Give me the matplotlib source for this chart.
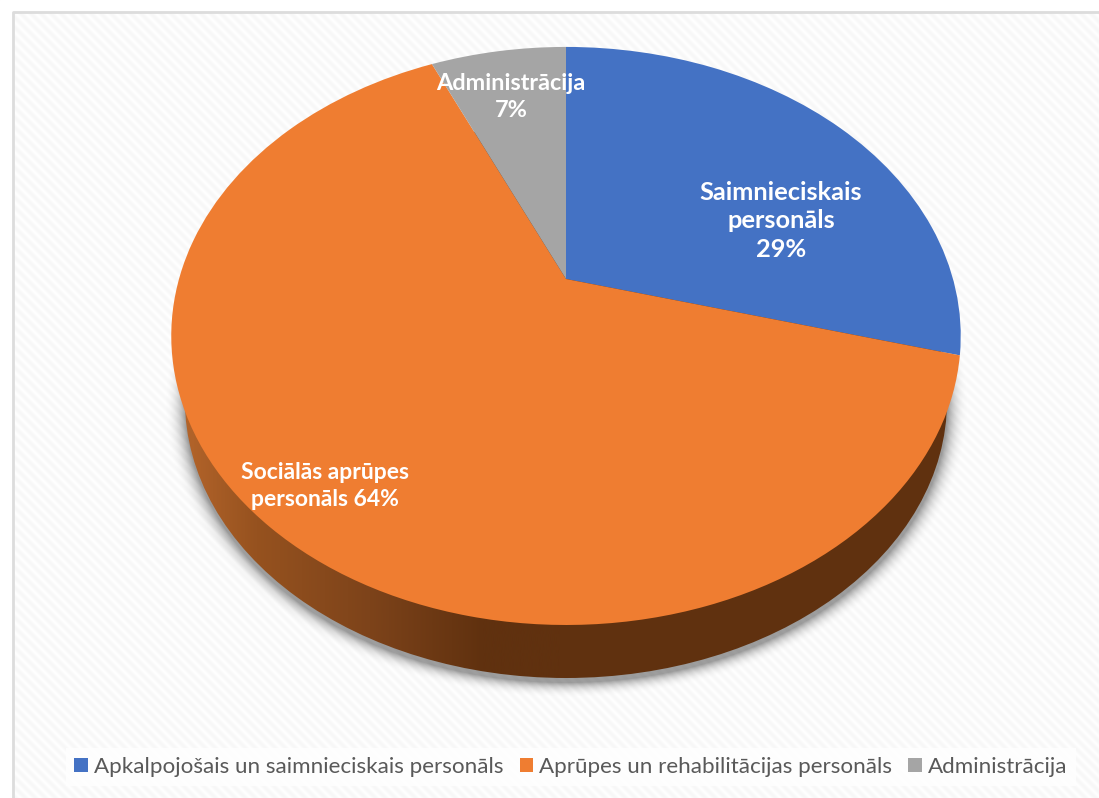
import numpy as np
import matplotlib
matplotlib.use('Agg')
import matplotlib.pyplot as plt
from matplotlib.patches import Ellipse, Rectangle
from matplotlib.transforms import Transform
from matplotlib.colors import LinearSegmentedColormap

plt.rcParams['font.family'] = ['Lato', 'DejaVu Sans']

# shares
categories = ['Apkalpojošais un saimnieciskais personāls',
              'Aprūpes un rehabilitācijas personāls',
              'Administrācija']
values = [29.2, 64.1, 6.7]
slice_names = ['Saimnieciskais\npersonāls\n', 'Sociālās aprūpes\npersonāls ', 'Administrācija\n']
colors = ['#4472C4', '#EF7D31', '#A5A5A5']


class TiltedPie(Transform):
    # tilts the flat pie into picture pixels, far edge is smaller
    input_dims = 2
    output_dims = 2
    has_inverse = False

    def transform_non_affine(self, xy):
        xy = np.asarray(xy, dtype=float)
        w = 1 + 0.197 * xy[:, 1]
        return np.column_stack([566 + 387 * xy[:, 0] / w, 279 - 277.8 * xy[:, 1] / w])


fig = plt.figure(figsize=(10.99, 7.98), dpi=100)
ax = fig.add_axes([0, 0, 1, 1])

# striped background
yy, xx = np.mgrid[0:798, 0:1099]
stripes = 0.983 + 0.015 * np.sin(2 * np.pi * (xx - yy) / 10.0)
bg = np.dstack([stripes, stripes, stripes])
ax.imshow(bg, extent=(0, 1099, 798, 0), zorder=0, vmin=0, vmax=1, interpolation='nearest')
ax.add_patch(Rectangle((0, 0), 1099, 11, color='white', zorder=1))
ax.add_patch(Rectangle((0, 0), 12, 798, color='white', zorder=1))
ax.plot([13, 13, 1099], [798, 12, 12], color='#dcdcdc', lw=2, zorder=2)

# soft shadow under the disc
cx, cy, rx, ry = 566, 401, 381, 277
r = np.sqrt(((xx - cx) / rx) ** 2 + ((yy - cy - 4) / ry) ** 2)
dist = (r - 1) * 330
shadow = np.zeros((798, 1099, 4))
shadow[..., 3] = 0.38 * np.clip(1 - dist / 20, 0, 1) ** 2.5
ax.imshow(shadow, extent=(0, 1099, 798, 0), zorder=3, interpolation='bilinear')

# side wall with horizontal gradient
wall = LinearSegmentedColormap.from_list('wall', [(0, '#B5652B'), (0.2, '#96521F'), (0.5, '#7D431A'),
                                                  (0.8, '#60310F'), (1, '#60310F')])
grad = np.linspace(0, 1, 400).reshape(1, -1)
im = ax.imshow(grad, cmap=wall, extent=(180, 560, 798, 0), zorder=4, aspect='auto')
im2 = ax.imshow(np.ones((1, 1)), cmap=wall, vmin=0, vmax=1, extent=(560, 1000, 798, 0), zorder=4, aspect='auto')
disc = Ellipse((cx, cy), 2 * rx, 2 * ry, transform=ax.transData, fc='none', ec='none')
ax.add_patch(disc)
im.set_clip_path(disc)
im2.set_clip_path(disc)

# top face
wedges, _ = ax.pie(values, colors=colors, startangle=90, counterclock=False, frame=True)
for w in wedges:
    w.set_transform(TiltedPie() + ax.transData)
    w.set_zorder(5)
ax.set_aspect('auto')
ax.set_xlim(0, 1099)
ax.set_ylim(798, 0)
ax.axis('off')

label_xy = [(781, 221), (325, 486), (511, 97)]
label_size = [18.3, 16.5, 16.9]
label_spacing = [1.3, 1.4, 1.4]
for name, val, (x, y), size, sp in zip(slice_names, values, label_xy, label_size, label_spacing):
    ax.text(x, y, '%s%d%%' % (name, round(val)), color='white', fontsize=size, fontweight='bold',
            ha='center', va='center', linespacing=sp, zorder=6)

leg = ax.legend(wedges, categories, loc='center', bbox_to_anchor=(571 / 1099, 1 - 767 / 798), ncol=3,
                fontsize=16.1, frameon=True, fancybox=False, edgecolor='none', facecolor='white', framealpha=0.8,
                handlelength=0.62, handleheight=0.62, handletextpad=0.27, columnspacing=0.7)
for t in leg.get_texts():
    t.set_color('#595959')
leg.set_zorder(6)

fig.savefig('out.png', dpi=100)
